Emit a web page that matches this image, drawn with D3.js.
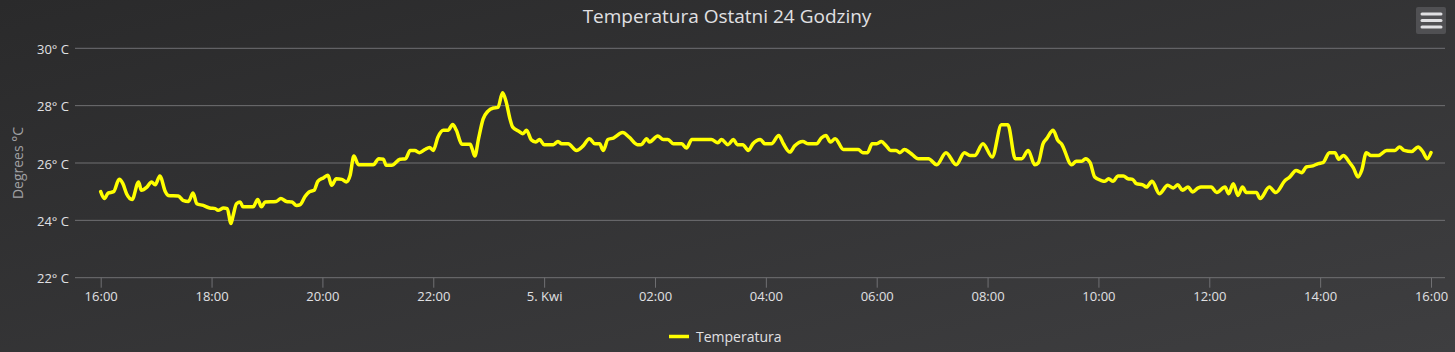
<!DOCTYPE html>
<html>
<head>
<meta charset="utf-8">
<script src="https://cdn.jsdelivr.net/npm/d3@7"></script>
<style>
  html, body { margin: 0; padding: 0; background: #2a2a2b; }
  svg { display: block; }
  text { font-family: "Open Sans", "DejaVu Sans", sans-serif; }
</style>
</head>
<body>
<svg id="chart" width="1455" height="352"></svg>
<script>
// ---- data (minutes after 16:00 on 4 Apr, temperature °C) ----
const minutes = [0,4,8,14,20,24,28,34,41,44,50,55,59,64,70,73,84,89,95,100,104,111,118,124,127,133,137,141,143,147,151,154,165,170,174,178,190,195,201,207,212,216,221,226,231,235,241,246,250,255,261,266,270,274,279,295,301,306,309,315,324,330,335,340,345,351,356,360,365,371,376,381,385,391,400,402,405,409,414,419,425,430,435,439,443,446,453,457,461,466,471,475,480,490,495,499,506,515,522,529,535,540,544,549,555,565,572,581,585,591,594,603,609,614,620,629,634,640,661,668,672,679,685,689,695,701,706,714,719,726,734,739,746,751,760,766,775,780,785,790,795,804,820,825,830,835,840,845,850,855,861,865,870,876,885,896,905,915,926,935,941,946,955,965,975,982,990,997,1004,1011,1015,1020,1024,1031,1036,1040,1051,1056,1062,1066,1071,1076,1083,1087,1091,1096,1101,1107,1112,1117,1121,1128,1132,1138,1146,1155,1161,1166,1171,1177,1182,1188,1191,1202,1208,1217,1221,1226,1231,1236,1240,1251,1255,1265,1272,1282,1287,1294,1300,1305,1312,1318,1323,1330,1336,1340,1345,1352,1356,1361,1365,1370,1375,1383,1392,1401,1406,1411,1419,1426,1431,1436,1440];
const temps = [25.0,24.76,24.95,25.0,25.43,25.28,24.93,24.73,25.34,25.05,25.16,25.34,25.24,25.55,25.0,24.87,24.85,24.70,24.66,24.95,24.58,24.52,24.43,24.41,24.35,24.43,24.41,23.89,24.12,24.58,24.64,24.47,24.47,24.73,24.47,24.64,24.66,24.76,24.66,24.64,24.52,24.55,24.82,25.0,25.05,25.36,25.48,25.57,25.22,25.45,25.43,25.34,25.57,26.24,25.94,25.94,26.15,26.13,25.92,25.92,26.13,26.15,26.44,26.44,26.36,26.47,26.54,26.44,26.9,27.14,27.14,27.34,27.14,26.65,26.65,26.5,26.24,26.85,27.54,27.8,27.92,27.94,28.45,28.12,27.54,27.25,27.1,27.02,27.14,26.81,26.73,26.82,26.64,26.64,26.75,26.67,26.67,26.44,26.59,26.85,26.67,26.67,26.44,26.82,26.87,27.06,26.9,26.64,26.64,26.85,26.73,26.94,26.82,26.82,26.67,26.67,26.52,26.82,26.82,26.71,26.82,26.64,26.82,26.64,26.64,26.44,26.67,26.82,26.67,26.67,26.96,26.67,26.38,26.59,26.75,26.67,26.67,26.87,26.96,26.73,26.85,26.47,26.47,26.36,26.36,26.67,26.67,26.75,26.61,26.44,26.44,26.36,26.47,26.36,26.15,26.15,25.94,26.36,25.94,26.36,26.26,26.26,26.67,26.21,27.33,27.33,26.15,26.15,26.44,25.94,26.01,26.67,26.85,27.14,26.79,26.67,25.94,26.06,26.06,26.15,26.01,25.51,25.39,25.36,25.45,25.36,25.55,25.55,25.45,25.43,25.28,25.24,25.16,25.36,24.93,25.22,25.13,25.24,25.05,25.16,24.99,25.13,25.16,25.16,24.97,25.16,24.93,25.28,24.87,25.16,24.97,24.97,24.76,25.16,24.97,25.39,25.51,25.74,25.66,25.86,25.9,25.98,26.01,26.36,26.36,26.13,26.26,26.01,25.83,25.51,25.74,26.36,26.26,26.26,26.44,26.44,26.56,26.44,26.40,26.56,26.40,26.15,26.36];
const yTicks = [22, 24, 26, 28, 30];
const xTickHours = [0, 2, 4, 6, 8, 10, 12, 14, 16, 18, 20, 22, 24];
const xTickLabels = ["16:00","18:00","20:00","22:00","5. Kwi","02:00","04:00","06:00","08:00","10:00","12:00","14:00","16:00"];
const titleText = "Temperatura Ostatni 24 Godziny";
const yAxisTitle = "Degrees °C";
const seriesName = "Temperatura";

// ---- layout ----
const W = 1455, H = 352;
const plot = { left: 75, right: 1445, top: 48.3, bottom: 277.7 };
const start = new Date(2024, 3, 4, 16, 0);
const end = new Date(2024, 3, 5, 16, 0);

const svg = d3.select("#chart");
const defs = svg.append("defs");
const grad = defs.append("linearGradient").attr("id", "bg")
  .attr("x1", 0).attr("y1", 0).attr("x2", 1).attr("y2", 1);
grad.append("stop").attr("offset", "0%").attr("stop-color", "#2a2a2b");
grad.append("stop").attr("offset", "100%").attr("stop-color", "#3e3e40");
svg.append("rect").attr("width", W).attr("height", H).attr("fill", "url(#bg)");

const x = d3.scaleTime().domain([start, end]).range([100.7, 1431]);
const y = d3.scaleLinear().domain([22, 30]).range([plot.bottom, plot.top]);

const data = minutes.map((m, i) => ({ t: new Date(start.getTime() + m * 60000), v: temps[i] }));

// grid lines
svg.append("g").selectAll("line").data(yTicks.filter(d => d !== 22)).join("line")
  .attr("x1", plot.left).attr("x2", plot.right)
  .attr("y1", d => y(d)).attr("y2", d => y(d))
  .attr("stroke", "#707073").attr("stroke-width", 1);

// y labels
const yAxis = d3.axisLeft(y).tickValues(yTicks).tickSize(0).tickPadding(0)
  .tickFormat(d => d + "° C");
const gy = svg.append("g").attr("transform", `translate(69,0)`).call(yAxis);
gy.select(".domain").remove();
gy.selectAll("text").attr("fill", "#E0E0E3").style("font-size", "13px")
  .style("font-family", '"Open Sans", sans-serif').attr("dy", "0.4em");

// y axis title
svg.append("text")
  .attr("transform", `translate(23,${(plot.top + plot.bottom) / 2 + 0}) rotate(-90)`)
  .attr("text-anchor", "middle").attr("fill", "#A0A0A3")
  .style("font-size", "14px").text(yAxisTitle);

// x axis
const tickDates = xTickHours.map(h => new Date(start.getTime() + h * 3600000));
const xAxis = d3.axisBottom(x).tickValues(tickDates).tickSize(10).tickPadding(4)
  .tickFormat((d, i) => xTickLabels[i]);
const gx = svg.append("g").attr("transform", `translate(0,${plot.bottom})`).call(xAxis);
gx.select(".domain").remove();
gx.selectAll(".tick line").attr("stroke", "#707073");
gx.selectAll("text").attr("fill", "#E0E0E3").style("font-size", "13px")
  .style("font-family", '"Open Sans", sans-serif');
svg.append("line").attr("x1", plot.left).attr("x2", plot.right)
  .attr("y1", plot.bottom).attr("y2", plot.bottom)
  .attr("stroke", "#707073").attr("stroke-width", 1);

// series line
const line = d3.line().x(d => x(d.t)).y(d => y(d.v)).curve(d3.curveMonotoneX);
svg.append("path").datum(data).attr("d", line)
  .attr("fill", "none").attr("stroke", "#ffff00").attr("stroke-width", 3.5)
  .attr("stroke-linejoin", "round").attr("stroke-linecap", "round");

// title
svg.append("text").attr("x", 727).attr("y", 22.7).attr("text-anchor", "middle")
  .attr("fill", "#E0E0E3").style("font-size", "19px").text(titleText);

// legend
const lg = svg.append("g");
lg.append("line").attr("x1", 669).attr("x2", 689).attr("y1", 336.5).attr("y2", 336.5)
  .attr("stroke", "#ffff00").attr("stroke-width", 3.5);
lg.append("text").attr("x", 696).attr("y", 342).attr("fill", "#E0E0E3")
  .style("font-size", "14px").text(seriesName);

// menu button
const mb = svg.append("g");
mb.append("rect").attr("x", 1416).attr("y", 7).attr("width", 30).attr("height", 27)
  .attr("rx", 2).attr("fill", "#505053");
[14, 20.5, 27].forEach(yy => {
  mb.append("line").attr("x1", 1422).attr("x2", 1441).attr("y1", yy).attr("y2", yy)
    .attr("stroke", "#E0E0E3").attr("stroke-width", 3).attr("stroke-linecap", "round");
});
</script>
</body>
</html>
